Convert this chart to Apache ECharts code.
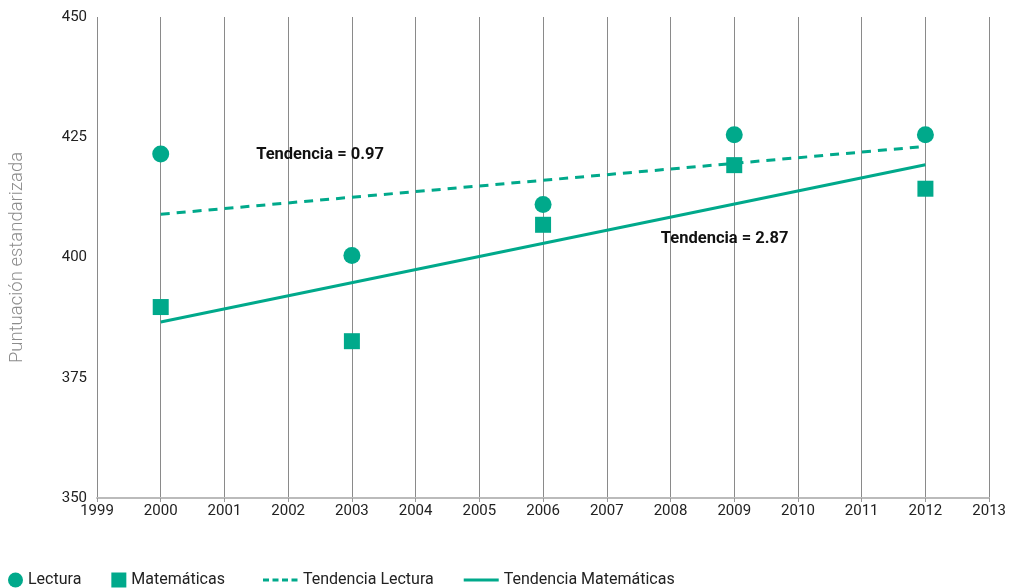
<!DOCTYPE html>
<html>
<head>
<meta charset="utf-8">
<script src="https://cdn.jsdelivr.net/npm/echarts@6/dist/echarts.min.js"></script>
<style>html,body{margin:0;padding:0;background:#fff}#c{width:1009px;height:588px}</style>
</head>
<body>
<div id="c"></div>
<script>
const years = [2000, 2003, 2006, 2009, 2012];
const lectura = [421.5, 400.4, 411.0, 425.5, 425.5];
const matematicas = [389.7, 382.6, 406.8, 419.2, 414.3];
const trendYears = [2000, 2012];
const tendLectura = [409.0, 423.1];
const tendMatematicas = [386.6, 419.3];
const annotations = [
  {text: 'Tendencia = 0.97', x: 2002.5, y: 421.3},
  {text: 'Tendencia = 2.87', x: 2008.85, y: 403.8}
];
const yTicks = [350, 375, 400, 425, 450];

const teal = '#00a98b';
const font = 'Roboto, sans-serif';
const pair = (xs, ys) => xs.map((x, i) => [x, ys[i]]);

const chart = echarts.init(document.getElementById('c'));
chart.setOption({
  animation: false,
  textStyle: {fontFamily: font},
  grid: {left: 92, right: 18, top: 17, bottom: 90},
  legend: [{
    left: 8, bottom: 0, padding: 0, itemGap: 30, itemWidth: 15, itemHeight: 15,
    textStyle: {fontSize: 16, color: '#222', fontFamily: font},
    data: [
      {name: 'Lectura', icon: 'circle'},
      {name: 'Matemáticas', icon: 'rect'}
    ]
  }, {
    left: 263, bottom: 0, padding: 0, itemGap: 30, itemWidth: 35, itemHeight: 15,
    textStyle: {fontSize: 16, color: '#222', fontFamily: font},
    data: [
      {name: 'Tendencia Lectura', icon: 'path://M0,6h6v3h-6z M9.5,6h6v3h-6z M19,6h6v3h-6z M28.5,6h6v3h-6z M0,0h0.01v0.01h-0.01z M0,15h0.01v-0.01h-0.01z M35,0h-0.01v0.01h0.01z'},
      {name: 'Tendencia Matemáticas', icon: 'path://M0,6h35v3h-35z M0,0h0.01v0.01h-0.01z M0,15h0.01v-0.01h-0.01z'}
    ]
  }],
  xAxis: {
    type: 'value', min: 1999, max: 2013, interval: 1,
    axisLine: {show: true, lineStyle: {color: '#bbbbbb', width: 2}},
    axisTick: {show: true, length: 4, lineStyle: {color: '#999'}},
    axisLabel: {color: '#222', fontSize: 15, margin: 6, formatter: v => String(v)},
    splitLine: {show: true, lineStyle: {color: '#8a8a8a', width: 1}}
  },
  yAxis: {
    type: 'value', min: 350, max: 450, interval: 25,
    name: 'Puntuación estandarizada', nameLocation: 'middle', nameGap: 70,
    nameTextStyle: {color: '#8c8c8c', fontSize: 18.5, fontWeight: 300, fontFamily: font},
    axisLine: {show: false}, axisTick: {show: false},
    axisLabel: {color: '#222', fontSize: 15, margin: 10,
      formatter: v => yTicks.includes(v) ? String(v) : ''},
    splitLine: {show: false}
  },
  series: [
    {name: 'Lectura', type: 'scatter', symbol: 'circle', symbolSize: 17,
     itemStyle: {color: teal, opacity: 1}, data: pair(years, lectura), z: 5},
    {name: 'Matemáticas', type: 'scatter', symbol: 'rect', symbolSize: 16,
     itemStyle: {color: teal, opacity: 1}, data: pair(years, matematicas), z: 5},
    {name: 'Tendencia Lectura', type: 'line', symbol: 'none',
     lineStyle: {color: teal, width: 3, type: [9, 7]}, itemStyle: {color: teal},
     data: pair(trendYears, tendLectura),
     markPoint: {
       symbolSize: 0,
       label: {show: true, position: 'inside', color: '#111', fontWeight: 'bold', fontSize: 16.5,
               fontFamily: font, formatter: p => p.name},
       data: annotations.map(a => ({name: a.text, coord: [a.x, a.y]}))
     }},
    {name: 'Tendencia Matemáticas', type: 'line', symbol: 'none',
     lineStyle: {color: teal, width: 3}, itemStyle: {color: teal},
     data: pair(trendYears, tendMatematicas)}
  ]
});
</script>
</body>
</html>
